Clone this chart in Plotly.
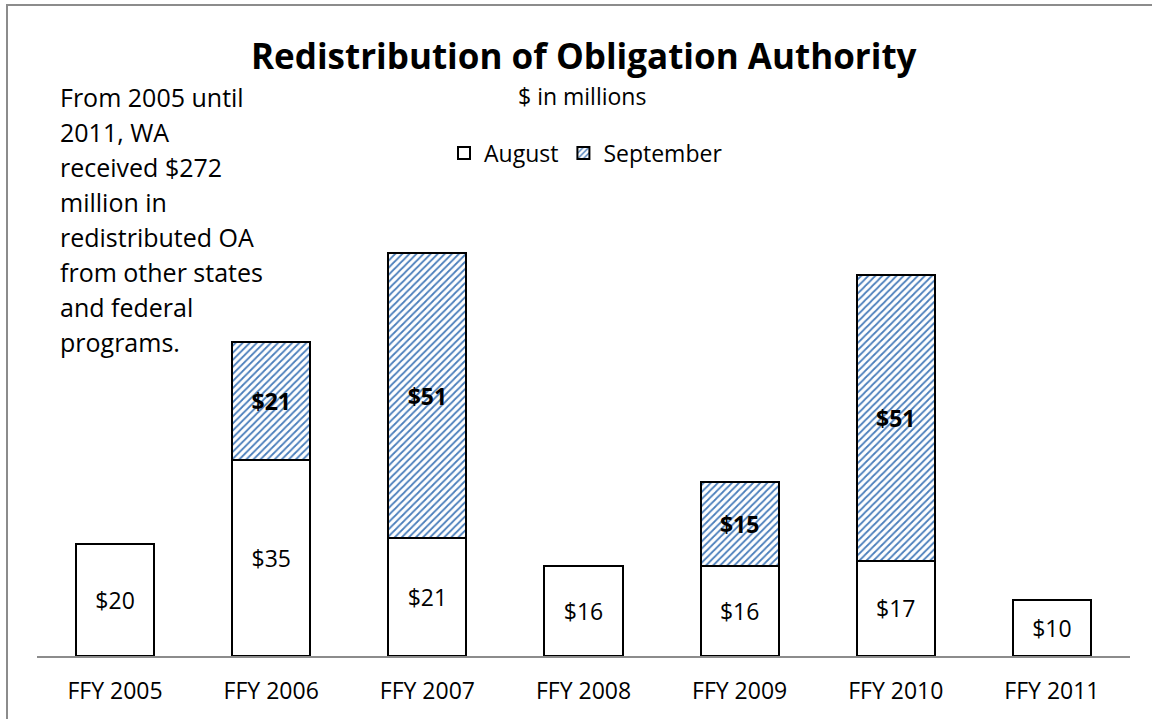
import plotly.graph_objects as go

# ---- data ----
categories = ["FFY 2005", "FFY 2006", "FFY 2007", "FFY 2008", "FFY 2009", "FFY 2010", "FFY 2011"]
august = [20, 35, 21, 16, 16, 17, 10]
september = [None, 21, 51, None, 15, 51, None]
title_text = "Redistribution of Obligation Authority"
subtitle_text = "$ in millions"
note_lines = ["From 2005 until", "2011, WA", "received $272", "million in",
              "redistributed OA", "from other states", "and federal", "programs."]

FONT = "Open Sans, Noto Sans, sans-serif"
W, H = 1152, 719
# plot area in screen pixels
PX0, PX1, PY0, PY1 = 37, 1130, 96, 656
L, R = PX0, W - PX1
T, B = PY0, H - PY1
pw, ph = PX1 - PX0, PY1 - PY0

def px_x(x):
    return (x - PX0) / pw

def px_y(y):
    return (PY1 - y) / ph

fig = go.Figure()
fig.add_trace(go.Bar(
    x=categories, y=august, name="August",
    marker=dict(color="white", line=dict(color="black", width=2)),
    texttemplate="$%{y}", textposition="inside", insidetextanchor="middle",
    textangle=0, insidetextfont=dict(family=FONT, size=23, color="black"),
))
fig.add_trace(go.Bar(
    x=categories, y=september, name="September",
    marker=dict(color="white", line=dict(color="black", width=2),
                pattern=dict(shape="/", fgcolor="#4a7ebb", bgcolor="white",
                             size=5, solidity=0.35, fillmode="replace")),
    texttemplate="<b>$%{y}</b>", textposition="inside", insidetextanchor="middle",
    textangle=0, insidetextfont=dict(family=FONT, size=23, color="black"),
))

annotations = [
    dict(text=f"<b>{title_text}</b>", x=px_x(584), y=px_y(55), xref="paper", yref="paper",
         showarrow=False, font=dict(family=FONT, size=35, color="black"),
         xanchor="center", yanchor="middle"),
    dict(text=subtitle_text, x=px_x(582), y=px_y(96), xref="paper", yref="paper",
         showarrow=False, font=dict(family=FONT, size=23, color="black"),
         xanchor="center", yanchor="middle"),
]
for i, line in enumerate(note_lines):
    annotations.append(dict(text=line, x=px_x(58), y=px_y(97 + i * 35), xref="paper", yref="paper",
                            showarrow=False, font=dict(family=FONT, size=25, color="black"),
                            xanchor="left", yanchor="middle"))

fig.update_layout(
    width=W, height=H,
    barmode="stack", bargap=0.5,
    plot_bgcolor="white", paper_bgcolor="white",
    margin=dict(l=L, r=R, t=T, b=B, pad=0),
    font=dict(family=FONT, size=23, color="black"),
    showlegend=True,
    legend=dict(orientation="h", x=px_x(444), y=px_y(153), xanchor="left", yanchor="middle",
                font=dict(family=FONT, size=23, color="black"), traceorder="normal",
                bgcolor="rgba(0,0,0,0)", itemwidth=30),
    xaxis=dict(showline=True, linecolor="#8c8c8c", linewidth=2, showgrid=False,
               ticks="outside", ticklen=13, tickcolor="rgba(0,0,0,0)",
               tickfont=dict(family=FONT, size=23, color="black"), fixedrange=True),
    yaxis=dict(range=[0, 100], visible=False, showgrid=False, fixedrange=True),
    annotations=annotations,
    shapes=[dict(type="rect", xref="paper", yref="paper",
                 x0=px_x(7), y0=px_y(740), x1=px_x(1175), y1=px_y(5),
                 line=dict(color="#8c8c8c", width=2), fillcolor="rgba(0,0,0,0)", layer="above")],
)

fig.write_html("out.html",
               config={"displayModeBar": False},
               post_script="document.body.style.margin='0';document.body.style.overflow='hidden';")
